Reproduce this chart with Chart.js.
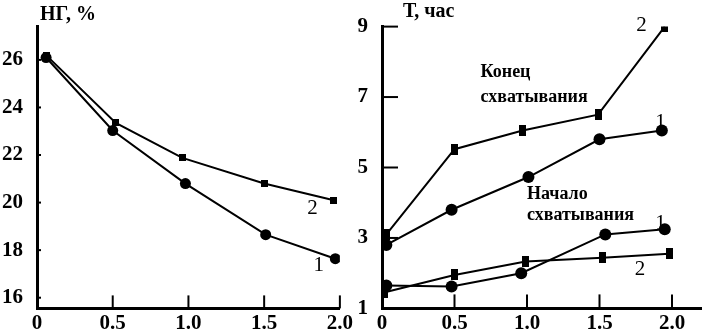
<!DOCTYPE html>
<html>
<head>
<meta charset="utf-8">
<script src="https://cdn.jsdelivr.net/npm/chart.js@4.4.1/dist/chart.umd.min.js"></script>
<style>
    html, body { margin: 0; padding: 0; background: #fff; width: 707px; height: 335px; overflow: hidden; }
    #wrap-left { position: absolute; left: 0; top: 0; width: 356px; height: 335px; }
    #wrap-right { position: absolute; left: 350px; top: 0; width: 357px; height: 335px; }
</style>
</head>
<body>
<div id="wrap-left"><canvas id="chart-ng"></canvas></div>
<div id="wrap-right"><canvas id="chart-time"></canvas></div>
<script>
// --- data ---
const xTickValues = [0, 0.5, 1.0, 1.5, 2.0];
const xTickLabels = ['0', '0.5', '1.0', '1.5', '2.0'];

// left panel: НГ, %
const ngTicks = [16, 18, 20, 22, 24, 26];
const ngX1 = [0.06, 0.5, 0.98, 1.51, 1.97];
const ngY1 = [26.1, 23.03, 20.8, 18.65, 17.64];
const ngX2 = [0.06, 0.52, 0.96, 1.5, 1.96];
const ngY2 = [26.2, 23.35, 21.88, 20.8, 20.1];

// right panel: Т, час
const timeTicks = [1, 3, 5, 7, 9];
const endX2 = [0.03, 0.5, 0.97, 1.49, 1.95];
const endY2 = [3.1, 5.52, 6.05, 6.5, 9.0];
const endX1 = [0.03, 0.48, 1.01, 1.5, 1.93];
const endY1 = [2.8, 3.8, 4.73, 5.8, 6.05];
const startX1 = [0.03, 0.48, 0.96, 1.54, 1.95];
const startY1 = [1.65, 1.62, 2.0, 3.1, 3.25];
const startX2 = [0.02, 0.5, 0.99, 1.52, 1.98];
const startY2 = [1.46, 1.95, 2.33, 2.44, 2.55];

// text labels placed in data units
const ngNotes = [
    { text: '2', x: 1.82, y: 19.75 },
    { text: '1', x: 1.86, y: 17.35 }
];
const timeNotes = [
    { text: '2', x: 1.79, y: 9.03 },
    { text: '1', x: 1.92, y: 6.27 },
    { text: '1', x: 1.92, y: 3.41 },
    { text: '2', x: 1.78, y: 2.1 },
    { text: 'Конец', x: 0.68, y: 7.71, words: true },
    { text: 'схватывания', x: 0.68, y: 7.0, words: true },
    { text: 'Начало', x: 1.0, y: 4.24, words: true },
    { text: 'схватывания', x: 1.0, y: 3.63, words: true }
];

const SERIF = "'Liberation Serif'";

function toPoints(xs, ys) {
    return xs.map((x, i) => ({ x: x, y: ys[i] }));
}

// tall square marker
function makeRect(w, h) {
    const c = document.createElement('canvas');
    c.width = w; c.height = h;
    const g = c.getContext('2d');
    g.fillStyle = '#000';
    g.fillRect(0, 0, w, h);
    return c;
}

const decorPlugin = {
    id: 'decor',
    afterDraw(chart, args, opts) {
        const { ctx, chartArea } = chart;
        const x = chart.scales.x, y = chart.scales.y;
        ctx.save();
        ctx.strokeStyle = '#000';
        ctx.fillStyle = '#000';

        // tick marks pointing into the plot
        ctx.lineWidth = 2;
        opts.xInside.forEach(v => {
            const px = x.getPixelForValue(v);
            ctx.beginPath();
            ctx.moveTo(px, chartArea.bottom);
            ctx.lineTo(px, chartArea.bottom - opts.xLen);
            ctx.stroke();
        });
        opts.yInside.forEach(v => {
            const py = y.getPixelForValue(v);
            ctx.beginPath();
            ctx.moveTo(chartArea.left, py);
            ctx.lineTo(chartArea.left + opts.yLen, py);
            ctx.stroke();
        });

        // notes
        ctx.textBaseline = 'middle';
        opts.notes.forEach(n => {
            ctx.font = n.words ? 'bold 18px ' + SERIF : '21px ' + SERIF;
            ctx.textAlign = n.words ? 'left' : 'center';
            ctx.fillText(n.text, x.getPixelForValue(n.x), y.getPixelForValue(n.y));
        });

        // axis title
        ctx.font = 'bold 20px ' + SERIF;
        ctx.textAlign = 'left';
        ctx.fillText(opts.title, chartArea.left + opts.titleDx, opts.titleY);
        ctx.restore();
    }
};

function axisX(max) {
    return {
        type: 'linear',
        min: 0,
        max: max,
        afterBuildTicks: s => { s.ticks = xTickValues.map(v => ({ value: v })); },
        afterFit: s => { s.height = 22; },
        border: { display: true, color: '#000', width: 3 },
        grid: { drawOnChartArea: false, drawTicks: false },
        ticks: {
            color: '#000',
            padding: 3,
            maxRotation: 0,
            autoSkip: false,
            font: { family: SERIF, size: 21, weight: 'bold' },
            callback: (v, i) => xTickLabels[i]
        }
    };
}

function axisY(min, max, tickVals, width) {
    return {
        type: 'linear',
        min: min,
        max: max,
        afterBuildTicks: s => { s.ticks = tickVals.map(v => ({ value: v })); },
        afterFit: s => { s.width = width; },
        border: { display: true, color: '#000', width: 3 },
        grid: { drawOnChartArea: false, drawTicks: false },
        ticks: {
            color: '#000',
            padding: 14,
            autoSkip: false,
            font: { family: SERIF, size: 21, weight: 'bold' },
            callback: v => String(v)
        }
    };
}

function lineSet(points, marker, radius) {
    return {
        data: points,
        borderColor: '#000',
        borderWidth: 2,
        backgroundColor: '#000',
        pointBackgroundColor: '#000',
        pointBorderColor: '#000',
        pointBorderWidth: 0,
        pointStyle: marker,
        pointRadius: radius,
        showLine: true,
        tension: 0
    };
}

const baseOptions = {
    responsive: true,
    maintainAspectRatio: false,
    animation: false,
    events: []
};

Chart.register(decorPlugin);

new Chart(document.getElementById('chart-ng'), {
    type: 'scatter',
    data: {
        datasets: [
            lineSet(toPoints(ngX2, ngY2), makeRect(7, 7), 4),
            lineSet(toPoints(ngX1, ngY1), 'circle', 5.5)
        ]
    },
    options: Object.assign({}, baseOptions, {
        layout: { padding: { left: 0, top: 22, right: 13, bottom: 0 } },
        scales: { x: axisX(2.0), y: axisY(15.55, 27.4, ngTicks, 37) },
        plugins: {
            legend: { display: false },
            tooltip: { enabled: false },
            decor: {
                xInside: [0.5, 1.0, 1.5, 2.0], xLen: 13,
                yInside: ngTicks, yLen: 4,
                notes: ngNotes,
                title: 'НГ, %', titleDx: 3, titleY: 15
            }
        }
    })
});

new Chart(document.getElementById('chart-time'), {
    type: 'scatter',
    data: {
        datasets: [
            lineSet(toPoints(endX2, endY2), makeRect(7, 11), 6),
            lineSet(toPoints(endX1, endY1), 'circle', 6),
            lineSet(toPoints(startX2, startY2), makeRect(7, 11), 6),
            lineSet(toPoints(startX1, startY1), 'circle', 6)
        ]
    },
    options: Object.assign({}, baseOptions, {
        layout: { padding: { left: 0, top: 18, right: 0, bottom: 0 } },
        scales: { x: axisX(2.2), y: axisY(1, 9, timeTicks, 32) },
        plugins: {
            legend: { display: false },
            tooltip: { enabled: false },
            decor: {
                xInside: [0.5, 1.0, 1.5, 2.0], xLen: 14,
                yInside: [3, 5, 7, 9], yLen: 16,
                notes: timeNotes,
                title: 'Т, час', titleDx: 21, titleY: 12
            }
        }
    })
});
</script>
</body>
</html>
